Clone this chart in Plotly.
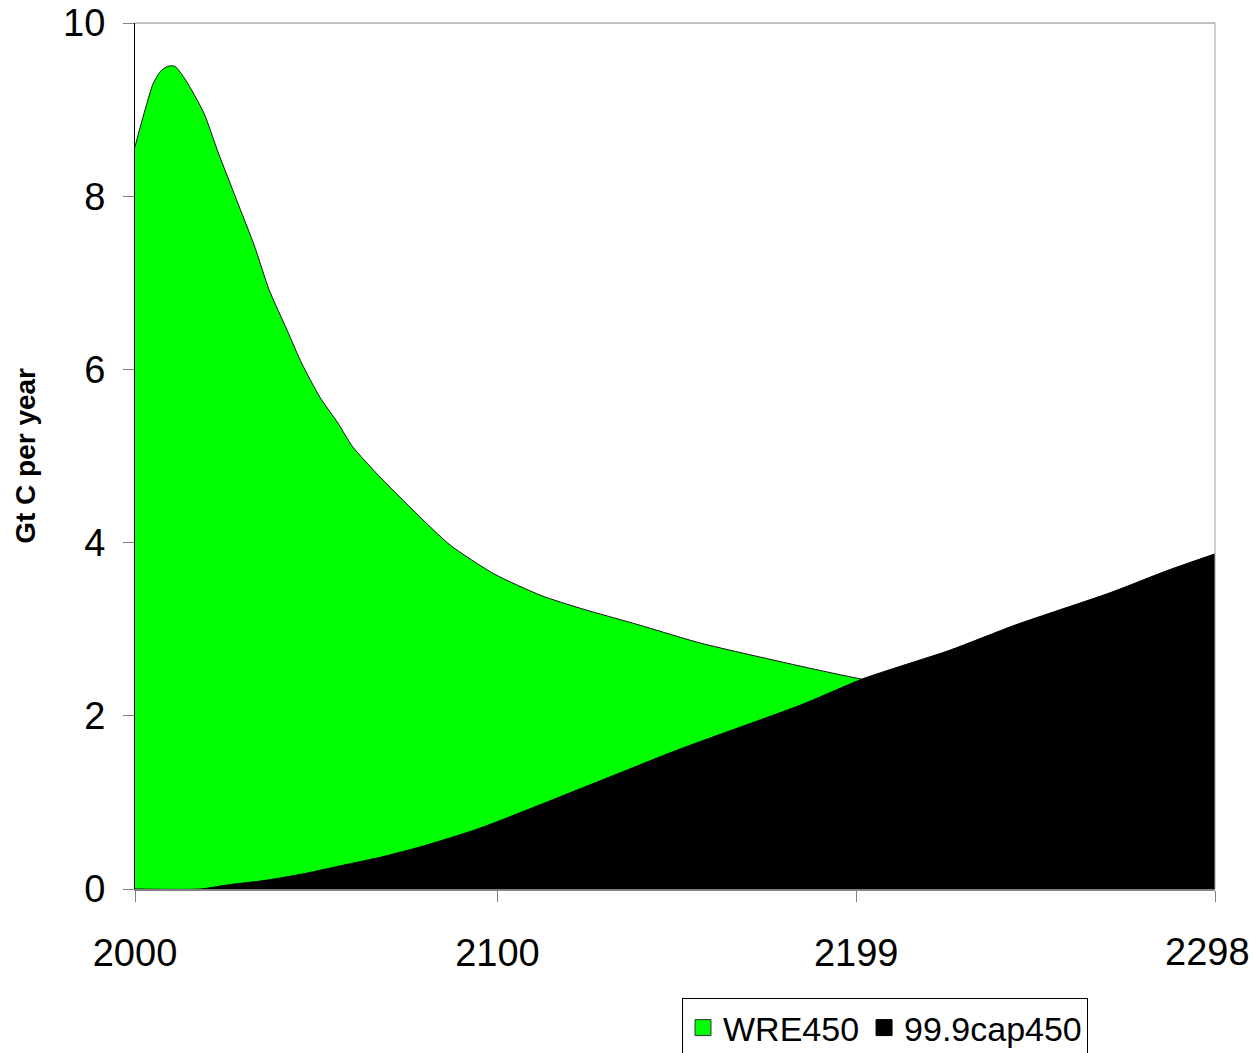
import plotly.graph_objects as go

# ---- data ----
wre_years = [2000, 2001, 2003, 2005, 2007, 2009, 2011, 2014, 2019, 2023, 2028, 2033,
             2037, 2042, 2046, 2051, 2056, 2060, 2068, 2080, 2087, 2099, 2112, 2123,
             2139, 2156, 2184, 2201, 2250, 2298]
wre450 = [8.57, 8.73, 9.03, 9.30, 9.44, 9.50, 9.50, 9.34, 8.96, 8.50, 7.96, 7.42,
          6.92, 6.45, 6.07, 5.68, 5.38, 5.11, 4.74, 4.24, 3.97, 3.64, 3.39, 3.24,
          3.05, 2.84, 2.57, 2.42, 2.10, 1.90]

cap_years = [2000, 2018, 2026, 2036, 2047, 2058, 2068, 2079, 2095, 2123, 2150,
             2184, 2201, 2225, 2243, 2269, 2285, 2298]
cap450 = [0.0, 0.0, 0.05, 0.10, 0.18, 0.28, 0.37, 0.49, 0.70, 1.16, 1.61,
          2.13, 2.43, 2.76, 3.05, 3.42, 3.68, 3.87]

x_tick_vals = [2000, 2100, 2199, 2298]
x_tick_text = ["2000", "2100", "2199", "2298"]
y_tick_vals = [0, 2, 4, 6, 8, 10]

series_names = ["WRE450", "99.9cap450"]
GREEN = "#00ff00"
BLACK = "#000000"
FONT = "Liberation Sans, Arial, sans-serif"

fig = go.Figure()

fig.add_trace(go.Scatter(
    x=wre_years, y=wre450, mode="lines", fill="tozeroy",
    fillcolor=GREEN, line=dict(color="#111111", width=1, shape="spline", smoothing=0.6),
    showlegend=False, hoverinfo="skip"))
fig.add_trace(go.Scatter(
    x=cap_years, y=cap450, mode="lines", fill="tozeroy",
    fillcolor=BLACK, line=dict(color=BLACK, width=1, shape="spline", smoothing=0.6),
    showlegend=False, hoverinfo="skip"))

# legend entries (square swatches)
fig.add_trace(go.Scatter(
    x=[None], y=[None], mode="markers", name=series_names[0],
    marker=dict(symbol="square", size=16, color=GREEN, line=dict(color="#333333", width=1))))
fig.add_trace(go.Scatter(
    x=[None], y=[None], mode="markers", name=series_names[1],
    marker=dict(symbol="square", size=16, color=BLACK, line=dict(color=BLACK, width=1))))

# the last x label is nudged left (as in the reference) so it stays inside the page
shown_ticktext = x_tick_text[:-1] + [""]

fig.update_layout(
    width=1254, height=1053,
    margin=dict(l=135, r=39, t=23, b=164, pad=0, autoexpand=False),
    paper_bgcolor="white", plot_bgcolor="white",
    font=dict(family=FONT, color="black"),
    showlegend=True,
    legend=dict(
        orientation="h", xref="container", yref="container",
        x=885 / 1254, xanchor="center", y=(1053 - 998) / 1053, yanchor="top",
        font=dict(family=FONT, size=34, color="black"),
        bordercolor="black", borderwidth=1, bgcolor="white",
        itemsizing="trace"),
    xaxis=dict(
        range=[2000, 2298], tickmode="array", tickvals=x_tick_vals, ticktext=shown_ticktext,
        showgrid=False, zeroline=False, showline=True, linecolor="#808080", linewidth=2,
        ticks="outside", ticklen=11, tickcolor="#808080", tickwidth=1,
        tickfont=dict(family=FONT, size=38, color="black"),
        ticklabelstandoff=18, ticklabeloverflow="allow"),
    yaxis=dict(
        range=[0, 10], tickmode="array", tickvals=y_tick_vals,
        showgrid=False, zeroline=False, showline=True, linecolor="black", linewidth=1,
        ticks="outside", ticklen=11, tickcolor="#808080", tickwidth=1,
        tickfont=dict(family=FONT, size=38, color="black"),
        ticklabelstandoff=10, ticklabeloverflow="allow"),
    shapes=[
        dict(type="line", xref="paper", yref="paper", x0=0, x1=1, y0=1, y1=1,
             line=dict(color="#c0c0c0", width=2)),
        dict(type="line", xref="paper", yref="paper", x0=1, x1=1, y0=0, y1=1,
             line=dict(color="#a0a0a0", width=1)),
    ],
    annotations=[
        dict(text="<b>Gt C per year</b>", textangle=-90, xref="paper", yref="paper",
             x=-0.102, y=0.5, xanchor="center", yanchor="middle", showarrow=False,
             font=dict(family=FONT, size=28, color="black")),
        dict(text=x_tick_text[-1], xref="paper", yref="paper",
             x=(1207 - 135) / 1080, y=(889 - 952) / 866, xanchor="center", yanchor="middle",
             showarrow=False, font=dict(family=FONT, size=38, color="black")),
    ],
)

fig.write_html("out.html", config={"displayModeBar": False},
               post_script="document.body.style.margin='0';document.body.style.overflow='hidden';")
